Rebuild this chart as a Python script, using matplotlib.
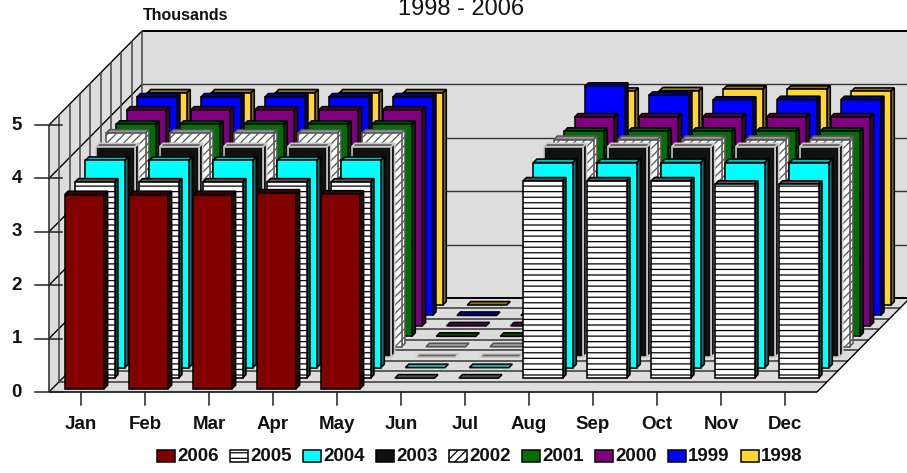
import numpy as np
import matplotlib
matplotlib.use("Agg")
import matplotlib.pyplot as plt
from matplotlib.patches import Polygon

plt.rcParams['font.family'] = ['Liberation Sans', 'DejaVu Sans']
plt.rcParams['hatch.linewidth'] = 0.9

months = ['Jan', 'Feb', 'Mar', 'Apr', 'May', 'Jun', 'Jul', 'Aug', 'Sep', 'Oct', 'Nov', 'Dec']
series_names = ['2006', '2005', '2004', '2003', '2002', '2001', '2000', '1999', '1998']
n = np.nan
v2006 = [3.63, 3.63, 3.63, 3.66, 3.64, n, n, n, n, n, n, n]
v2005 = [3.67, 3.67, 3.67, 3.67, 3.67, 0, 0, 3.69, 3.69, 3.69, 3.63, 3.63]
v2004 = [3.88, 3.88, 3.88, 3.88, 3.88, 0, 0, 3.84, 3.84, 3.84, 3.84, 3.84]
v2003 = [3.94, 3.94, 3.94, 3.94, 3.94, 0, 0, 3.94, 3.94, 3.94, 3.94, 3.94]
v2002 = [4.00, 4.00, 4.00, 4.00, 4.00, 0, 0, 3.88, 3.88, 3.88, 3.88, 3.88]
v2001 = [3.97, 3.97, 3.97, 3.97, 3.97, 0, 0, 3.84, 3.84, 3.84, 3.84, 3.84]
v2000 = [4.04, 4.04, 4.04, 4.04, 4.04, 0, 0, 3.91, 3.91, 3.91, 3.91, 3.91]
v1999 = [4.09, 4.09, 4.09, 4.09, 4.09, 0, 0, 4.29, 4.12, 4.03, 4.04, 4.04]
v1998 = [3.97, 3.97, 3.97, 3.97, 3.97, 0, 0, 4.00, 4.01, 4.04, 4.04, 4.00]
values = [v2006, v2005, v2004, v2003, v2002, v2001, v2000, v1999, v1998]

faces = ['#800000', '#FFFFFF', '#00FFFF', '#111111', '#FFFFFF', '#007000', '#800080', '#0000FF', '#FFD633']
sides = ['#400000', '#333333', '#008080', '#111111', '#666666', '#003800', '#400040', '#000080', '#806B1A']
tops = ['#400000', '#555555', '#00C0C0', '#666666', '#999999', '#005000', '#500050', '#0000A0', '#8C7518']
edges = ['#000000', '#000000', '#000000', '#C8C8C8', '#555555', '#000000', '#000000', '#000000', '#000000']
hatches = [None, '---', None, None, '////', None, None, None, None]

W, H = 907, 473
PX_MONTH = 64.0
PX_UNIT = 53.4
X0, Y0 = 81.0, 392.0  # pixel position of Jan centre / value 0
DX = 10.33 / PX_MONTH  # one series step of depth, in month units
DY = 10.44 / PX_UNIT   # one series step of depth, in value units
N = len(series_names)
YMAX = 5
BAR_W = 39.5 / PX_MONTH
DEPTH_OFF = 1 / 3
DEPTH_LEN = 1 / 3

fig = plt.figure(figsize=(W / 100, H / 100), dpi=100)
ax = fig.add_axes([0, 0, 1, 1])
ax.set_xlim(-X0 / PX_MONTH, (W - X0) / PX_MONTH)
ax.set_ylim((Y0 - H) / PX_UNIT, Y0 / PX_UNIT)
ax.axis('off')
XL, XR = -0.5, len(months) - 0.5


def P(m, d, v):
    return (m + d * DX, v + d * DY)


def poly(pts, **kw):
    ax.add_patch(Polygon(pts, closed=True, **kw))


wall = '#DDDDDD'
poly([P(XL, 0, 0), P(XL, N, 0), P(XL, N, YMAX), P(XL, 0, YMAX)], fc=wall, ec='none', zorder=1)
poly([P(XL, N, 0), P(XR, N, 0), P(XR, N, YMAX), P(XL, N, YMAX)], fc=wall, ec='none', zorder=1)
poly([P(XL, 0, 0), P(XR, 0, 0), P(XR, N, 0), P(XL, N, 0)], fc=wall, ec='none', zorder=1)


def line(a, b, c='#333333', lw=1.0, z=2):
    ax.plot([a[0], b[0]], [a[1], b[1]], color=c, lw=lw, zorder=z, solid_capstyle='butt')


for v in range(YMAX + 1):
    line(P(XL, 0, v), P(XL, N, v), c='#000000', lw=1.0)
    line(P(XL, N, v), P(XR, N, v), c='#000000' if v in (0, YMAX) else '#333333', lw=1.4 if v in (0, YMAX) else 1.0)
for d in range(N + 1):
    line(P(XL, d, 0), P(XL, d, YMAX), c='#444444', lw=1.1 if d else 1.3)
    if 0 < d < N:
        line(P(XL, d, 0), P(XR, d, 0), c='#444444', lw=1.2)
line(P(XL, 0, 0), P(XR, 0, 0), c='#222222', lw=1.3)
line(P(XR, 0, 0), P(XR, N, 0), c='#000000', lw=1.0)

# axis ticks
tx = 14 / PX_MONTH
for v in range(YMAX + 1):
    ax.plot([XL - tx, XL + 13 / PX_MONTH], [v, v], color='#222222', lw=1.1, zorder=2)
    ax.text(XL - 27 / PX_MONTH, v, str(v), ha='right', va='center', fontsize=13.5, fontweight='bold', color='#111111')
for i, name in enumerate(months):
    ax.plot([i, i], [0, -13 / PX_UNIT], color='#222222', lw=1.1, zorder=2)
    ax.text(i, -32 / PX_UNIT, name, ha='center', va='center', fontsize=13.5, fontweight='bold', color='#111111')

# bars, back series first
z = 3
for s in range(N - 1, -1, -1):
    d0 = s + DEPTH_OFF
    d1 = d0 + DEPTH_LEN
    for i, v in enumerate(values[s]):
        if np.isnan(v):
            continue
        l, r = i - BAR_W / 2, i + BAR_W / 2
        style = dict(ec=edges[s], lw=1.15, zorder=z, joinstyle='miter')
        poly([P(l, d0, v), P(r, d0, v), P(r, d1, v), P(l, d1, v)], fc=tops[s], **style)
        if v > 0:
            side_hatch = hatches[s] if s == 4 else None
            poly([P(r, d0, 0), P(r, d1, 0), P(r, d1, v), P(r, d0, v)], fc=sides[s] if s != 4 else '#FFFFFF',
                 hatch=side_hatch, **style)
            poly([P(l, d0, 0), P(r, d0, 0), P(r, d0, v), P(l, d0, v)], fc=faces[s], hatch=hatches[s], **style)
    z += 1

# legend
LX0, LSTEP, SW = 157.0, 73.0, 17.5
ly0, ly1 = (Y0 - 462) / PX_UNIT, (Y0 - 450) / PX_UNIT
for k, name in enumerate(series_names):
    xa = (LX0 + k * LSTEP - X0) / PX_MONTH
    xb = xa + SW / PX_MONTH
    poly([(xa, ly0), (xb, ly0), (xb, ly1), (xa, ly1)], fc=faces[k], ec='#000000', lw=1.1, hatch=hatches[k], zorder=30)
    ax.text(xb + 2.5 / PX_MONTH, (ly0 + ly1) / 2, name, ha='left', va='center', fontsize=13.5, fontweight='bold', color='#111111')

ax.text((185.5 - X0) / PX_MONTH, (Y0 - 16) / PX_UNIT, 'Thousands', ha='center', va='center', fontsize=11.5, fontweight='bold', color='#111111')
ax.text((461 - X0) / PX_MONTH, (Y0 - 15) / PX_UNIT, '1998 - 2006', ha='center', va='baseline', fontsize=17, color='#111111')

fig.savefig('out.png', dpi=100)
